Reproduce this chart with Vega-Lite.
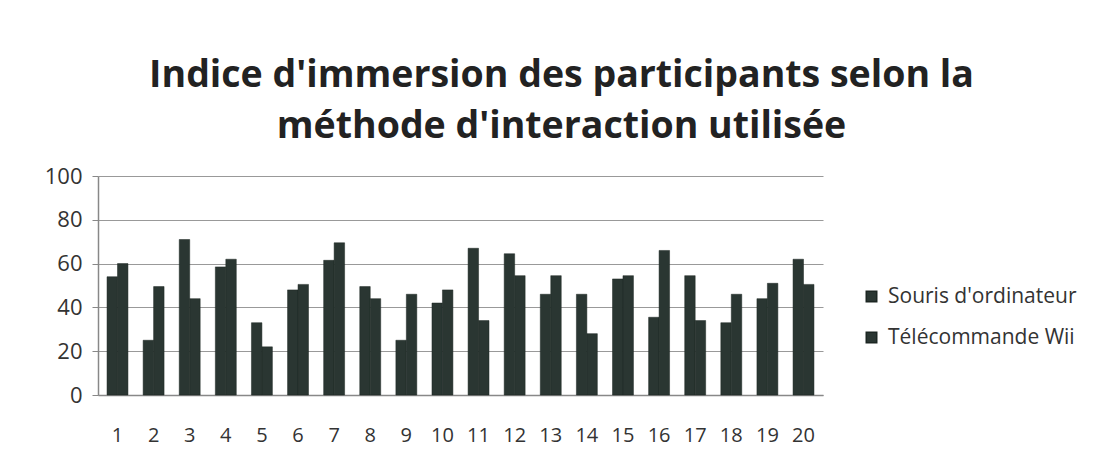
{
  "$schema": "https://vega.github.io/schema/vega-lite/v6.json",
  "width": 725,
  "height": 219,
  "autosize": "none",
  "padding": {"left": 98, "top": 176, "right": 271, "bottom": 74},
  "background": "white",
  "title": {
    "text": ["Indice d'immersion des participants selon la", "méthode d'interaction utilisée"],
    "font": "Open Sans",
    "fontSize": 37.5,
    "fontWeight": "bold",
    "color": "#222222",
    "anchor": "middle",
    "dx": 101,
    "offset": 20,
    "lineHeight": 51
  },
  "data": {
    "values": [
      {"p": "1", "s": "Souris d'ordinateur", "v": 54}, {"p": "1", "s": "Télécommande Wii", "v": 60},
      {"p": "2", "s": "Souris d'ordinateur", "v": 25}, {"p": "2", "s": "Télécommande Wii", "v": 49.5},
      {"p": "3", "s": "Souris d'ordinateur", "v": 71}, {"p": "3", "s": "Télécommande Wii", "v": 44},
      {"p": "4", "s": "Souris d'ordinateur", "v": 58.5}, {"p": "4", "s": "Télécommande Wii", "v": 62},
      {"p": "5", "s": "Souris d'ordinateur", "v": 33}, {"p": "5", "s": "Télécommande Wii", "v": 22},
      {"p": "6", "s": "Souris d'ordinateur", "v": 48}, {"p": "6", "s": "Télécommande Wii", "v": 50.5},
      {"p": "7", "s": "Souris d'ordinateur", "v": 61.5}, {"p": "7", "s": "Télécommande Wii", "v": 69.5},
      {"p": "8", "s": "Souris d'ordinateur", "v": 49.5}, {"p": "8", "s": "Télécommande Wii", "v": 44},
      {"p": "9", "s": "Souris d'ordinateur", "v": 25}, {"p": "9", "s": "Télécommande Wii", "v": 46},
      {"p": "10", "s": "Souris d'ordinateur", "v": 42}, {"p": "10", "s": "Télécommande Wii", "v": 48},
      {"p": "11", "s": "Souris d'ordinateur", "v": 67}, {"p": "11", "s": "Télécommande Wii", "v": 34},
      {"p": "12", "s": "Souris d'ordinateur", "v": 64.5}, {"p": "12", "s": "Télécommande Wii", "v": 54.5},
      {"p": "13", "s": "Souris d'ordinateur", "v": 46}, {"p": "13", "s": "Télécommande Wii", "v": 54.5},
      {"p": "14", "s": "Souris d'ordinateur", "v": 46}, {"p": "14", "s": "Télécommande Wii", "v": 28},
      {"p": "15", "s": "Souris d'ordinateur", "v": 53}, {"p": "15", "s": "Télécommande Wii", "v": 54.5},
      {"p": "16", "s": "Souris d'ordinateur", "v": 35.5}, {"p": "16", "s": "Télécommande Wii", "v": 66},
      {"p": "17", "s": "Souris d'ordinateur", "v": 54.5}, {"p": "17", "s": "Télécommande Wii", "v": 34},
      {"p": "18", "s": "Souris d'ordinateur", "v": 33}, {"p": "18", "s": "Télécommande Wii", "v": 46},
      {"p": "19", "s": "Souris d'ordinateur", "v": 44}, {"p": "19", "s": "Télécommande Wii", "v": 51},
      {"p": "20", "s": "Souris d'ordinateur", "v": 62}, {"p": "20", "s": "Télécommande Wii", "v": 50.5}
    ]
  },
  "mark": {"type": "bar", "stroke": "#1c2622", "strokeWidth": 0.5},
  "encoding": {
    "x": {
      "field": "p",
      "type": "ordinal",
      "sort": null,
      "title": null,
      "scale": {"paddingInner": 0.42, "paddingOuter": 0.25},
      "axis": {
        "labelAngle": 0,
        "labelFont": "Open Sans",
        "labelFontSize": 20,
        "labelColor": "#333333",
        "labelPadding": 30,
        "ticks": false,
        "domainColor": "#888888",
        "domainWidth": 1.5
      }
    },
    "xOffset": {"field": "s", "type": "nominal"},
    "y": {
      "field": "v",
      "type": "quantitative",
      "title": null,
      "scale": {"domain": [0, 100]},
      "axis": {
        "values": [0, 20, 40, 60, 80, 100],
        "labelFont": "Open Sans",
        "labelFontSize": 22,
        "labelColor": "#333333",
        "labelPadding": 10,
        "tickSize": 6,
        "tickColor": "#888888",
        "domainColor": "#888888",
        "domainWidth": 1.5,
        "gridColor": "#999999",
        "gridWidth": 1.2
      }
    },
    "color": {
      "field": "s",
      "type": "nominal",
      "scale": {"range": ["#2a3632", "#2a3632"]},
      "legend": {
        "title": null,
        "orient": "none",
        "legendX": 763,
        "legendY": 110,
        "symbolType": "square",
        "symbolSize": 110,
        "labelFont": "Open Sans",
        "labelFontSize": 21,
        "labelLimit": 300,
        "labelColor": "#333333",
        "rowPadding": 19,
        "labelOffset": 6
      }
    }
  },
  "config": {"view": {"stroke": null}}
}
